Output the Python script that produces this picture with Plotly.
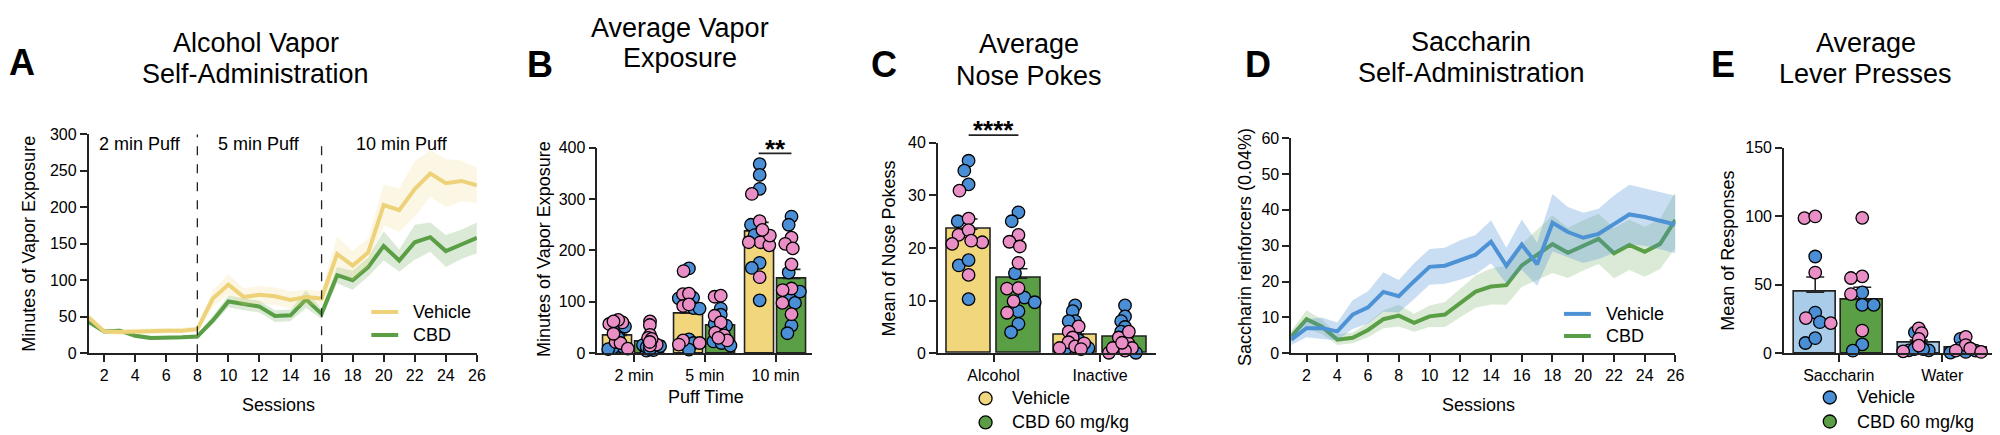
import numpy as np
import plotly.graph_objects as go

# ---------------- DATA ----------------
sessions = list(range(1, 27))
# Panel A: alcohol vapor self-administration (minutes)
a_vehicle = [49, 30, 29, 30, 31, 31, 31, 33, 75, 94, 77, 80, 78, 73, 77, 75, 136, 120, 138, 203, 196, 225, 246, 233, 236, 230]
a_vehicle_sem = [5, 4, 4, 4, 4, 4, 4, 4, 12, 14, 12, 12, 12, 12, 10, 10, 24, 20, 20, 28, 30, 38, 32, 33, 28, 24]
a_cbd = [43, 30, 31, 24, 21, 21, 22, 23, 45, 71, 67, 64, 51, 52, 74, 54, 107, 100, 118, 147, 127, 152, 159, 140, 149, 158]
a_cbd_sem = [3, 3, 3, 3, 3, 2, 2, 3, 6, 8, 8, 8, 8, 8, 12, 7, 11, 13, 13, 20, 15, 24, 20, 22, 20, 21]

# Panel B: average vapor exposure by puff time
b_categories = ["2 min", "5 min", "10 min"]
b_vehicle_male = [[54, 41, 52, 12, 12, 11, 8, 30],
                  [165, 107, 108, 88, 87, 27, 20, 7],
                  [368, 347, 320, 250, 176, 166, 103, 230]]
b_vehicle_female = [[60, 65, 57, 62, 22, 20, 9, 38],
                    [160, 115, 116, 92, 25, 17, 95, 20],
                    [310, 257, 216, 216, 210, 229, 148, 240]]
b_cbd_male = [[20, 19, 5, 6, 16, 12, 8, 14],
              [87, 75, 57, 54, 45, 23, 20, 15],
              [266, 250, 157, 110, 98, 54, 39, 120]]
b_cbd_female = [[62, 55, 36, 30, 17, 15, 28, 22],
                [110, 112, 73, 60, 40, 35, 25, 30],
                [225, 213, 204, 173, 126, 123, 98, 76]]

# Panel C: average nose pokes
c_categories = ["Alcohol", "Inactive"]
c_vehicle_male = [[36.6, 34.7, 32.1, 25.1, 16.7, 17.7, 10.3],
                  [9.1, 8.0, 6.1, 6.1, 4.1, 1.0, 1.0, 2.5]]
c_vehicle_female = [[30.9, 25.6, 22.5, 23.4, 21.1, 21.4, 20.8, 14.9],
                    [5.1, 4.1, 3.0, 2.1, 1.0, 1.3, 1.9, 0.8]]
c_cbd_male = [[26.8, 25.1, 15.2, 10.6, 9.7, 8.0, 5.6, 4.0],
              [9.1, 7.0, 6.1, 5.0, 4.1, 3.0, 1.0, 0.1]]
c_cbd_female = [[22.5, 21.2, 20.3, 17.2, 12.3, 12.4, 9.9, 7.7],
                [3.0, 1.9, 4.1, 0.1, 1.0, 1.0, 0.5, 2.0]]

# Panel D: saccharin self-administration
d_vehicle = [3.8, 7.0, 7.0, 6.1, 10.8, 12.8, 17.1, 15.9, 20.1, 24.1, 24.4, 26.0, 27.5, 31.1, 24.4, 30.3, 24.8, 36.4, 33.8, 32.2, 33.3, 36.0, 38.7, 38.0, 37.0, 35.9]
d_vehicle_sem = [1.5, 2.5, 3, 2.5, 4, 4.5, 5.5, 4.5, 5, 5, 5, 5.5, 5.5, 6, 5, 7, 6, 8, 7, 7, 7, 8, 8.3, 8, 8, 8]
d_cbd = [4.7, 9.5, 7.4, 3.8, 4.3, 6.5, 9.5, 10.5, 8.5, 10.3, 10.8, 14.1, 17.2, 18.6, 19.0, 24.5, 27.4, 30.4, 28.0, 30.1, 31.9, 27.9, 30.2, 28.3, 30.5, 37.2]
d_cbd_sem = [1.5, 2.5, 2, 1.5, 1.5, 2, 2.5, 3, 2.5, 3, 3.5, 4, 4.5, 5, 5.5, 6, 7, 8, 7, 7, 7, 7, 7, 7, 7, 7.8]

# Panel E: average lever presses
e_categories = ["Saccharin", "Water"]
e_vehicle_male = [[70.6, 29.7, 22.7, 7.5, 11.0], [15.2, 2.1, 2.1, 3.0, 3.0]]
e_vehicle_female = [[98.6, 99.8, 58.9, 25.7, 22.0], [18.2, 14.7, 10.5, 5.6, 1.4]]
e_cbd_male = [[44.4, 35.3, 35.3, 6.5, 1.9], [10.5, 4.0, 2.0, 0.5, 1.0]]
e_cbd_female = [[98.8, 56.1, 54.9, 43.2, 16.6], [12.0, 6.0, 3.5, 2.0, 1.0]]

# ---------------- STYLE ----------------
W, H = 2000, 435
FONT = "Arial, Liberation Sans, sans-serif"
YEL_LINE = "#EDD27A"
YEL_BAR = "#F2D67C"
GREEN = "#5A9E45"
BLUE_LINE = "#4E92D6"
BLUE_BAR = "#A9CDE9"
DOT_BLUE = "#4A8FD6"
DOT_PINK = "#E98FC6"
AX = "#222222"


def px(x):
    return x / W


def py(y):
    return 1 - y / H


fig = go.Figure()

axis_common = dict(showgrid=False, zeroline=False, showline=True, linecolor=AX, linewidth=1.6,
                   ticks="outside", ticklen=7, tickwidth=1.5, tickcolor=AX,
                   tickfont=dict(family=FONT, size=16, color="black"), fixedrange=True)

# panel geometry in pixels: (x0, x1, ybottom, ytop)
panels = {
    "A": (81, 471, 351, 123),
    "B": (592, 808, 351, 137),
    "C": (934, 1153, 351, 132),
    "D": (1289, 1675, 351, 127),
    "E": (1784, 1998, 351, 137),
}

layout_axes = {}
for i, k in enumerate("ABCDE"):
    x0, x1, yb, yt = panels[k]
    sfx = "" if i == 0 else str(i + 1)
    layout_axes["xaxis" + sfx] = dict(axis_common, domain=[px(x0), px(x1)], anchor="y" + sfx)
    layout_axes["yaxis" + sfx] = dict(axis_common, domain=[py(yb), py(yt)], anchor="x" + sfx)

layout_axes["xaxis"].update(range=[1, 26], tickvals=list(range(2, 27, 2)))
layout_axes["yaxis"].update(range=[0, 300], tickvals=list(range(0, 301, 50)))
layout_axes["xaxis2"].update(range=[-0.52, 2.52], tickvals=[0, 1, 2], ticktext=b_categories)
layout_axes["yaxis2"].update(range=[0, 400], tickvals=[0, 100, 200, 300, 400])
layout_axes["xaxis3"].update(range=[-0.523, 1.523], tickvals=[0, 1], ticktext=c_categories)
layout_axes["yaxis3"].update(range=[0, 40], tickvals=[0, 10, 20, 30, 40])
layout_axes["xaxis4"].update(range=[1, 26], tickvals=list(range(2, 27, 2)))
layout_axes["yaxis4"].update(range=[0, 60], tickvals=list(range(0, 61, 10)))
layout_axes["xaxis5"].update(range=[-0.529, 1.529], tickvals=[0, 1], ticktext=e_categories)
layout_axes["yaxis5"].update(range=[0, 150], tickvals=[0, 50, 100, 150])


def band_line(xa, ya, x, mean, sem, line_color, fill_color):
    mean = np.array(mean, float)
    sem = np.array(sem, float)
    fig.add_trace(go.Scatter(x=x, y=mean + sem, mode="lines", line=dict(width=0, color=fill_color),
                             xaxis=xa, yaxis=ya, hoverinfo="skip", showlegend=False))
    fig.add_trace(go.Scatter(x=x, y=mean - sem, mode="lines", line=dict(width=0, color=fill_color),
                             fill="tonexty", fillcolor=fill_color,
                             xaxis=xa, yaxis=ya, hoverinfo="skip", showlegend=False))
    fig.add_trace(go.Scatter(x=x, y=mean, mode="lines", line=dict(width=4, color=line_color),
                             xaxis=xa, yaxis=ya, showlegend=False))


# Panel A
band_line("x", "y", sessions, a_cbd, a_cbd_sem, GREEN, "rgba(90,158,69,0.22)")
band_line("x", "y", sessions, a_vehicle, a_vehicle_sem, YEL_LINE, "rgba(237,215,120,0.20)")
# Panel D
band_line("x4", "y4", sessions, d_cbd, d_cbd_sem, GREEN, "rgba(90,158,69,0.22)")
band_line("x4", "y4", sessions, d_vehicle, d_vehicle_sem, BLUE_LINE, "rgba(78,146,214,0.30)")


def swarm_once(vals, ypx, d):
    placed = []
    offs = np.zeros(len(vals))
    for i in np.argsort(-vals, kind="stable"):
        yv = vals[i] * ypx
        cands = [0.0]
        for (qx, qy) in placed:
            dy = abs(qy - yv)
            if dy < d:
                dx = np.sqrt(d * d - dy * dy)
                cands += [qx + dx + 0.01, qx - dx - 0.01]
        cands.sort(key=lambda c: (abs(c), c))
        chosen = 0.0
        for c in cands:
            if all((c - qx) ** 2 + (yv - qy) ** 2 >= d * d - 1e-6 for qx, qy in placed):
                chosen = c
                break
        placed.append((chosen, yv))
        offs[i] = chosen
    return offs


def swarm(vals, ypx, xpx, d, limit):
    vals = np.asarray(vals, float)
    dd = d
    while True:
        offs = swarm_once(vals, ypx, dd)
        if np.max(np.abs(offs)) <= limit or dd <= 3:
            break
        dd -= 0.25
    offs = np.clip(offs, -limit, limit)
    return offs / xpx


def bar_panel(xa, ya, males_v, females_v, males_c, females_c, col_v, col_c, offv, offc, bw,
              ypx, xpx, d, limit):
    for males, females, col, off in ((males_v, females_v, col_v, offv), (males_c, females_c, col_c, offc)):
        means, sems, xs = [], [], []
        dots_x, dots_y, dots_c = [], [], []
        for g in range(len(males)):
            vals = np.array(list(males[g]) + list(females[g]), float)
            means.append(vals.mean())
            sems.append(vals.std(ddof=1) / np.sqrt(len(vals)))
            xs.append(g + off)
            cols = [DOT_BLUE] * len(males[g]) + [DOT_PINK] * len(females[g])
            o = swarm(vals, ypx, xpx, d, limit)
            dots_x += list(g + off + o)
            dots_y += list(vals)
            dots_c += cols
        fig.add_trace(go.Bar(x=xs, y=means, width=bw, marker=dict(color=col, line=dict(color=AX, width=1.6)),
                             error_y=dict(type="data", symmetric=False, array=sems, arrayminus=[0] * len(sems),
                                          color=AX, thickness=1.6, width=9),
                             xaxis=xa, yaxis=ya, showlegend=False))
        fig.add_trace(go.Scatter(x=dots_x, y=dots_y, mode="markers",
                                 marker=dict(size=12.5, color=dots_c, line=dict(color="black", width=1.3)),
                                 xaxis=xa, yaxis=ya, showlegend=False, cliponaxis=False))


bar_panel("x2", "y2", b_vehicle_male, b_vehicle_female, b_cbd_male, b_cbd_female,
          YEL_BAR, GREEN, -0.225, 0.225, 0.41, 0.535, 71.0, 11.0, 11.0)
bar_panel("x3", "y3", c_vehicle_male, c_vehicle_female, c_cbd_male, c_cbd_female,
          YEL_BAR, GREEN, -0.234, 0.234, 0.41, 5.475, 107.0, 11.5, 17.0)
bar_panel("x5", "y5", e_vehicle_male, e_vehicle_female, e_cbd_male, e_cbd_female,
          BLUE_BAR, GREEN, -0.227, 0.227, 0.41, 1.427, 104.0, 11.5, 16.0)

shapes = []
annotations = []

# dashed session-block separators in panel A
shapes.append(dict(type="line", xref="x", yref="y", x0=8, x1=8, y0=0, y1=300,
                   line=dict(color=AX, width=1.3, dash="dash")))
shapes.append(dict(type="line", xref="x", yref="y", x0=16, x1=16, y0=0, y1=293,
                   line=dict(color=AX, width=1.3, dash="dash")))
for txt, xv in (("2 min Puff", 4.3), ("5 min Puff", 12), ("10 min Puff", 21.2)):
    annotations.append(dict(text=txt, x=xv, y=287, xref="x", yref="y", showarrow=False,
                            font=dict(family=FONT, size=18, color="black")))

# line legends (A, D)
leg_line = [((365, 392, 308, 405), YEL_LINE, "Vehicle"), ((365, 392, 332, 405), GREEN, "CBD"),
            ((1563, 1590, 310, 1603), BLUE_LINE, "Vehicle"), ((1563, 1590, 333, 1603), GREEN, "CBD")]
for (x0, x1, yy, tx), col, label in leg_line:
    shapes.append(dict(type="line", xref="paper", yref="paper", x0=px(x0), x1=px(x1), y0=py(yy), y1=py(yy),
                       line=dict(color=col, width=4)))
    annotations.append(dict(text=label, x=px(tx), y=py(yy), xref="paper", yref="paper", showarrow=False,
                            xanchor="left", yanchor="middle", font=dict(family=FONT, size=18, color="black")))

# marker legends (C, E)
leg_mark = [((982, 398, 1007), YEL_BAR, "Vehicle"), ((982, 423, 1007), GREEN, "CBD 60 mg/kg"),
            ((1830, 397, 1855), DOT_BLUE, "Vehicle"), ((1830, 422, 1855), GREEN, "CBD 60 mg/kg")]
for (mx, my, tx), col, label in leg_mark:
    shapes.append(dict(type="circle", xref="paper", yref="paper", xsizemode="pixel", ysizemode="pixel",
                       xanchor=px(mx), yanchor=py(my), x0=-6.5, x1=6.5, y0=-6.5, y1=6.5,
                       fillcolor=col, line=dict(color="black", width=1.3)))
    annotations.append(dict(text=label, x=px(tx), y=py(my), xref="paper", yref="paper", showarrow=False,
                            xanchor="left", yanchor="middle", font=dict(family=FONT, size=18, color="black")))

# significance
shapes.append(dict(type="line", xref="paper", yref="paper", x0=px(754), x1=px(787), y0=py(143), y1=py(143),
                   line=dict(color=AX, width=1.6)))
annotations.append(dict(text="<b>**</b>", x=px(771), y=py(121), xref="paper", yref="paper", showarrow=False,
                        font=dict(family=FONT, size=26, color="black")))
shapes.append(dict(type="line", xref="paper", yref="paper", x0=px(965), x1=px(1015), y0=py(124), y1=py(124),
                   line=dict(color=AX, width=1.6)))
annotations.append(dict(text="<b>****</b>", x=px(990), y=py(101), xref="paper", yref="paper", showarrow=False,
                        font=dict(family=FONT, size=26, color="black")))

# axis titles
for txt, (xx, yy) in (("Minutes of Vapor Exposure", (21, 237)), ("Minutes of Vapor Exposure", (538, 243)),
                      ("Mean of Nose Pokess", (885, 242)), ("Saccharin reinforcers (0.04%)", (1242, 240)),
                      ("Mean of Responses", (1728, 244))):
    annotations.append(dict(text=txt, x=px(xx), y=py(yy), xref="paper", yref="paper", showarrow=False,
                            textangle=-90, xanchor="center", yanchor="middle",
                            font=dict(family=FONT, size=18, color="black")))
for txt, (xx, yy) in (("Sessions", (272, 405)), ("Puff Time", (701, 397)), ("Sessions", (1477, 405))):
    annotations.append(dict(text=txt, x=px(xx), y=py(yy), xref="paper", yref="paper", showarrow=False,
                            xanchor="center", yanchor="middle", font=dict(family=FONT, size=18, color="black")))

# titles, one annotation per line
title_lines = [("Alcohol Vapor", 249, 28), ("Self-Administration", 249, 60),
               ("Average Vapor", 675, 13), ("Exposure", 675, 44),
               ("Average", 1026, 29), ("Nose Pokes", 1026, 62),
               ("Saccharin", 1470, 27), ("Self-Administration", 1470, 59),
               ("Average", 1866, 28), ("Lever Presses", 1866, 60)]
for txt, xx, yy in title_lines:
    annotations.append(dict(text=txt, x=px(xx), y=py(yy), xref="paper", yref="paper", showarrow=False,
                            xanchor="center", yanchor="middle",
                            font=dict(family=FONT, size=27, color="black")))

# panel letters
for txt, (xx, yy) in (("A", (14, 48)), ("B", (534, 50)), ("C", (880, 50)), ("D", (1256, 50)), ("E", (1723, 50))):
    annotations.append(dict(text="<b>%s</b>" % txt, x=px(xx), y=py(yy), xref="paper", yref="paper",
                            showarrow=False, xanchor="center", yanchor="middle",
                            font=dict(family=FONT, size=36, color="black")))

fig.update_layout(width=W, height=H, margin=dict(l=0, r=0, t=0, b=0), paper_bgcolor="white",
                  plot_bgcolor="white", showlegend=False, bargap=0, shapes=shapes, annotations=annotations,
                  **layout_axes)

fig.write_html("out.html", config={"displayModeBar": False})
